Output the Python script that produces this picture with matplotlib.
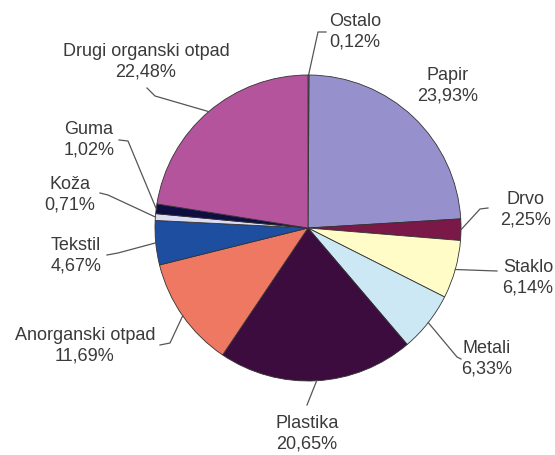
import numpy as np
import matplotlib.pyplot as plt

# figure size in pixels (image coords, y down)
W, H = 555, 455

# Data
labels = ['Ostalo', 'Papir', 'Drvo', 'Staklo', 'Metali', 'Plastika',
          'Anorganski otpad', 'Tekstil', 'Koža', 'Guma', 'Drugi organski otpad']
shares = [0.12, 23.93, 2.25, 6.14, 6.33, 20.65, 11.69, 4.67, 0.71, 1.02, 22.48]
colors = ['#c8b8dc', '#9690cc', '#7a1848', '#fffcc8', '#cce8f4', '#3c0c3e',
          '#ee7862', '#1e4ea0', '#dcdcf2', '#0e0e42', '#b4549c']

# label centres (image px) and leader elbows (image px)
label_pos = [(355, 32), (448, 86), (526, 210), (528, 278), (487, 359), (307, 434),
             (85, 346), (76, 256), (70, 195), (89, 140), (146, 62)]
leaders = [
    [(318, 32), (326, 32)],
    [],
    [(480, 209), (488, 208)],
    [(497, 271)],
    [(457, 357), (461, 359)],
    [(307, 405)],
    [(170, 343), (160, 345)],
    [(118, 253), (107, 255)],
    [(108, 195), (100, 193)],
    [(128, 141), (119, 140)],
    [(155, 96), (147, 88)],
]

cx, cy, r = 308, 228, 153

fig = plt.figure(figsize=(W / 100, H / 100), dpi=100)
ax = fig.add_axes([0, 0, 1, 1])

wedges, _ = ax.pie(shares, colors=colors, startangle=90, counterclock=False,
                   center=(cx, H - cy), radius=r,
                   wedgeprops=dict(edgecolor='#333333', linewidth=0.6))

ax.set_xlim(0, W)
ax.set_ylim(0, H)
ax.set_aspect('equal')
ax.axis('off')

for w, name, val, (lx, ly), elbows in zip(wedges, labels, shares, label_pos, leaders):
    txt = f"{name}\n{val:.2f}".replace('.', ',') + '%'
    ax.text(lx, H - ly, txt, ha='center', va='center', fontsize=13,
            linespacing=1.25, color='#3a3a3a', family='Liberation Sans')
    if elbows:
        mid = np.deg2rad((w.theta1 + w.theta2) / 2)
        pts = [(cx + r * np.cos(mid), (H - cy) + r * np.sin(mid))]
        pts += [(x, H - y) for x, y in elbows]
        xs, ys = zip(*pts)
        ax.plot(xs, ys, color='#555555', lw=0.9)

fig.savefig('out.png', dpi=100)
